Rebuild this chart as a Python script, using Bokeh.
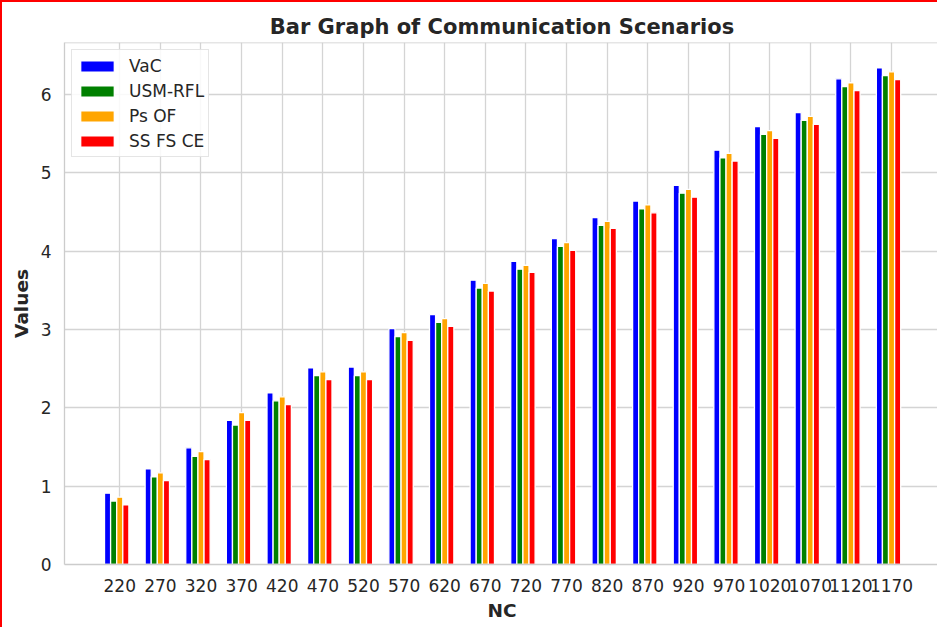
from bokeh.plotting import figure
from bokeh.models import ColumnDataSource, FixedTicker, Legend, LegendItem, Range1d, Span
from bokeh.transform import dodge
from bokeh.embed import file_html
from bokeh.resources import INLINE

# ---- data ----
nc = [220, 270, 320, 370, 420, 470, 520, 570, 620, 670,
      720, 770, 820, 870, 920, 970, 1020, 1070, 1120, 1170]
vac = [0.91, 1.22, 1.49, 1.84, 2.19, 2.51, 2.52, 3.01, 3.19, 3.63,
       3.87, 4.16, 4.43, 4.64, 4.84, 5.29, 5.59, 5.77, 6.20, 6.34]
usm_rfl = [0.81, 1.12, 1.38, 1.78, 2.09, 2.41, 2.41, 2.91, 3.09, 3.53,
           3.77, 4.06, 4.33, 4.54, 4.74, 5.19, 5.49, 5.67, 6.10, 6.24]
ps_of = [0.86, 1.17, 1.44, 1.94, 2.14, 2.46, 2.46, 2.96, 3.14, 3.59,
         3.82, 4.11, 4.38, 4.59, 4.79, 5.25, 5.54, 5.72, 6.15, 6.29]
ss_fs_ce = [0.76, 1.07, 1.34, 1.84, 2.04, 2.36, 2.36, 2.86, 3.04, 3.49,
            3.73, 4.01, 4.29, 4.49, 4.69, 5.15, 5.44, 5.62, 6.05, 6.19]
series_names = ["VaC", "USM-RFL", "Ps OF", "SS FS CE"]
series_cols = ["vac", "usm", "psof", "ssfsce"]
series_colors = ["#0000ff", "#008000", "#ffa500", "#ff0000"]
y_ticks = [0, 1, 2, 3, 4, 5, 6]

source = ColumnDataSource(dict(nc=nc, vac=vac, usm=usm_rfl, psof=ps_of, ssfsce=ss_fs_ce))

TXT = "#262626"
FONT = "DejaVu Sans"
GRID = "#d4d4d4"
SPINE = "#cccccc"
Y_TOP = 6.664

p = figure(width=937, height=627, output_backend="svg", toolbar_location=None,
           x_range=Range1d(152, 1229), y_range=Range1d(0, Y_TOP),
           min_border_left=62, min_border_right=0, min_border_top=40, min_border_bottom=65)
p.styles = {"border-left": "2px solid red", "border-top": "2px solid red"}

p.background_fill_color = "white"
p.border_fill_color = "white"
p.outline_line_color = None

p.title.text = "Bar Graph of Communication Scenarios"
p.title.text_font = FONT
p.title.text_font_size = "21px"
p.title.text_font_style = "bold"
p.title.text_color = TXT
p.title.align = "center"
p.title.standoff = 8

step = 7.5
offsets = [-15.0, -7.5, 0.0, 7.5]
renderers = []
for col, off, color in zip(series_cols, offsets, series_colors):
    r = p.vbar(x=dodge("nc", off, range=p.x_range), top=col, width=step, bottom=0,
               source=source, fill_color=color, line_color="white", line_width=1.3)
    renderers.append(r)

p.add_layout(Span(location=Y_TOP, dimension="width", line_color=SPINE, line_width=1.5))

legend = Legend(items=[LegendItem(label=n, renderers=[r]) for n, r in zip(series_names, renderers)],
                location="top_left")
legend.margin = 7
legend.padding = 4
legend.spacing = 2
legend.glyph_width = 42
legend.glyph_height = 14
legend.label_height = 23
legend.label_standoff = 11
legend.label_text_font = FONT
legend.label_text_font_size = "17px"
legend.label_text_color = TXT
legend.border_line_color = "#cccccc"
legend.border_line_width = 1.2
legend.background_fill_color = "white"
legend.background_fill_alpha = 0.85
p.add_layout(legend)

p.xaxis.ticker = FixedTicker(ticks=nc)
p.yaxis.ticker = FixedTicker(ticks=y_ticks)
for ax in (p.xaxis[0], p.yaxis[0]):
    ax.axis_line_color = SPINE
    ax.axis_line_width = 1.3
    ax.major_tick_line_color = None
    ax.minor_tick_line_color = None
    ax.major_tick_out = 0
    ax.major_tick_in = 0
    ax.minor_tick_out = 0
    ax.minor_tick_in = 0
    ax.major_label_text_font = FONT
    ax.major_label_text_font_size = "17px"
    ax.major_label_text_color = TXT
    ax.axis_label_text_font = FONT
    ax.axis_label_text_font_size = "18.5px"
    ax.axis_label_text_font_style = "bold"
    ax.axis_label_text_color = TXT
p.xaxis.axis_label = "NC"
p.yaxis.axis_label = "Values"
p.xaxis.major_label_standoff = 14
p.yaxis.major_label_standoff = 13
p.xaxis.axis_label_standoff = 5
p.yaxis.axis_label_standoff = 6

p.xgrid.grid_line_color = GRID
p.ygrid.grid_line_color = GRID
p.xgrid.grid_line_width = 1.3
p.ygrid.grid_line_width = 1.3

open("out.html", "w").write(file_html(p, INLINE))
